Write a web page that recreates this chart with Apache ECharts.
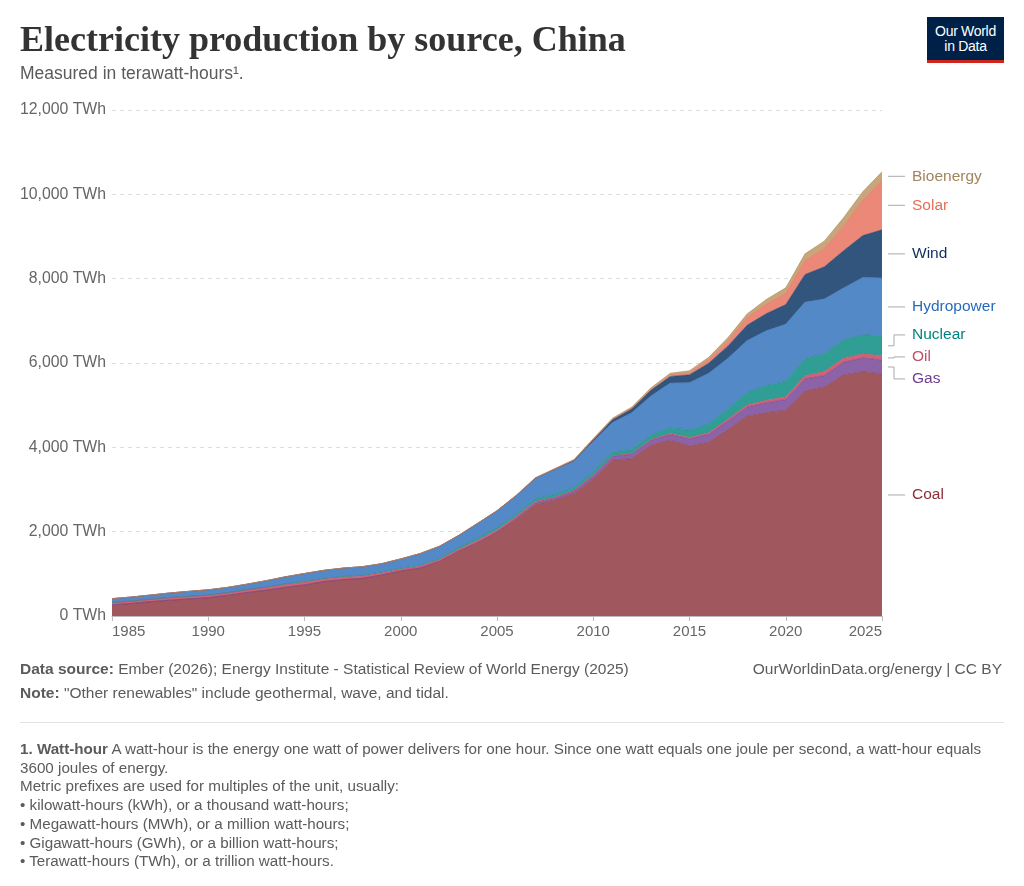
<!DOCTYPE html>
<html>
<head>
<meta charset="utf-8">
<title>Electricity production by source, China</title>
<script src="https://cdn.jsdelivr.net/npm/echarts@6.0.0/dist/echarts.min.js"></script>
<style>
    html, body { margin: 0; padding: 0; background: #fff; }
    #wrap { position: relative; width: 1024px; height: 886px; font-family: "Liberation Sans", Arial, sans-serif; color: #5b5b5b; }
    #chart { position: absolute; left: 0; top: 0; width: 1024px; height: 886px; }
    .t { position: absolute; white-space: nowrap; }
    h1 { position: absolute; left: 20px; top: 18px; margin: 0; font: bold 36px "Liberation Serif", "DejaVu Serif", serif; color: #333; }
    .logo { position: absolute; left: 927px; top: 17px; width: 77px; height: 46px; background: #002147; border-bottom: 3px solid #ce261e; box-sizing: border-box; color: #fff; font: 14px/15px "Liberation Sans Narrow", "Liberation Sans", sans-serif; text-align: center; padding-top: 7px; letter-spacing: -0.3px; }
    b { color: #5b5b5b; }
</style>
</head>
<body>
<div id="wrap">
    <div id="chart"></div>
    <h1>Electricity production by source, China</h1>
    <div class="t" style="left:20px;top:63px;font-size:17.5px;">Measured in terawatt-hours¹.</div>
    <div class="logo">Our World<br>in Data</div>
    <div class="t" style="left:20px;top:660px;font-size:15.5px;"><b>Data source:</b> Ember (2026); Energy Institute - Statistical Review of World Energy (2025)</div>
    <div class="t" style="right:22px;top:660px;font-size:15.5px;">OurWorldinData.org/energy | CC BY</div>
    <div class="t" style="left:20px;top:684px;font-size:15.5px;"><b>Note:</b> "Other renewables" include geothermal, wave, and tidal.</div>
    <div style="position:absolute;left:20px;top:722px;width:984px;height:1px;background:#e3e3e3;"></div>
    <div class="t" style="left:20px;top:740px;font-size:15.2px;line-height:18.7px;">
        <b>1. Watt-hour</b> A watt-hour is the energy one watt of power delivers for one hour. Since one watt equals one joule per second, a watt-hour equals<br>
        3600 joules of energy.<br>
        Metric prefixes are used for multiples of the unit, usually:<br>
        • kilowatt-hours (kWh), or a thousand watt-hours;<br>
        • Megawatt-hours (MWh), or a million watt-hours;<br>
        • Gigawatt-hours (GWh), or a billion watt-hours;<br>
        • Terawatt-hours (TWh), or a trillion watt-hours.
    </div>
</div>
<script>
// years 1985 - 2025, values in TWh
var years = [];
for (var y = 1985; y <= 2025; y++) years.push(String(y));

var coal = [263, 297, 338, 375, 403, 432, 489, 554, 609, 677,
    736, 812, 860, 887, 969, 1062, 1132, 1287, 1531, 1736,
    1985, 2294, 2643, 2748, 2906, 3250, 3700, 3730, 4050, 4170,
    4030, 4120, 4420, 4740, 4820, 4880, 5335, 5430, 5715, 5795, 5740];
var gas = [1, 1, 1, 1.5, 2, 2.5, 2.5, 2.5, 2.5, 2.5,
    2.5, 3, 3, 3.5, 4, 5.8, 6.3, 7.6, 8.9, 10.5,
    12.4, 28.8, 45.2, 52, 59.2, 77.6, 88.7, 104.7, 115.1, 133.3,
    166.9, 188.3, 203.2, 215.5, 236.6, 252.5, 287.1, 271.5, 300, 325, 330];
var oil = [55, 57, 58, 60, 62, 60, 62, 66, 70, 68,
    66, 65, 62, 60, 55, 46, 45, 42, 40, 48,
    45, 40, 30, 15, 15, 14, 14, 15, 20, 25,
    35, 40, 45, 50, 60, 65, 75, 95, 100, 100, 100];
var nuclear = [0, 0, 0, 0, 0, 0, 0, 0.5, 2.5, 14,
    12.8, 14.3, 14.4, 14.1, 14.9, 16.7, 17.5, 25.1, 43.3, 50.5,
    53.1, 54.8, 62.1, 68.4, 70.1, 73.9, 86.4, 97.4, 111.6, 132.5,
    170.8, 213.2, 248.1, 295, 348.7, 366.4, 407.5, 417.8, 434.7, 450.8, 475];
var hydro = [92.4, 94.5, 100, 109.2, 118.3, 126.7, 124.7, 130.7, 151.8, 167.4,
    190.6, 188, 196, 204.3, 196.6, 222.4, 277.4, 288, 283.7, 353.5,
    397, 435.8, 485.3, 585.2, 615.6, 722.2, 698.9, 872.1, 920.3, 1064.3,
    1130.3, 1193.4, 1194.7, 1232.1, 1302, 1355, 1339, 1303, 1226, 1354, 1370];
var wind = [0, 0, 0, 0, 0, 0, 0, 0, 0, 0,
    0.1, 0.1, 0.2, 0.3, 0.4, 0.6, 0.7, 0.9, 1, 1.3,
    2, 3.8, 5.6, 13.1, 27.6, 44.6, 70.3, 95.9, 141.2, 156.1,
    185.6, 240.9, 295, 365.8, 405.3, 466.5, 655.6, 762.7, 885.9, 997, 1145];
var solar = [0, 0, 0, 0, 0, 0, 0, 0, 0, 0,
    0, 0, 0, 0, 0, 0, 0, 0, 0, 0,
    0, 0, 0, 0.1, 0.3, 0.7, 2.6, 6.4, 15.5, 29.2,
    45.2, 75.3, 117.8, 176.9, 224, 261.1, 327, 427.3, 584.2, 834, 1160];
var bio = [0, 0, 0, 0, 0, 0, 0, 0, 0, 0,
    0, 0, 0, 0, 0, 2.4, 2.4, 2.5, 2.5, 2.5,
    5.3, 8.6, 11, 14.6, 20, 24.8, 31.5, 33.7, 38.3, 46.1,
    52.7, 64.7, 79.5, 90.6, 112.6, 135.5, 163.7, 182.4, 197.3, 206, 215];

var yTicks = [0, 2000, 4000, 6000, 8000, 10000, 12000];

// bottom to top
var sources = [
    { name: 'Coal', data: coal, fill: '#a0575e', line: '#8a3f47', text: '#883039' },
    { name: 'Gas', data: gas, fill: '#8c63a6', line: '#6d3e91', text: '#6d3e91' },
    { name: 'Oil', data: oil, fill: '#cf6278', line: '#c15065', text: '#c15065' },
    { name: 'Nuclear', data: nuclear, fill: '#319e95', line: '#1a8a80', text: '#00847e' },
    { name: 'Hydropower', data: hydro, fill: '#5489c8', line: '#3f76b8', text: '#286bbb' },
    { name: 'Wind', data: wind, fill: '#32557e', line: '#24456c', text: '#0f2e5e' },
    { name: 'Solar', data: solar, fill: '#ec8878', line: '#e06f5d', text: '#e56e5a' },
    { name: 'Bioenergy', data: bio, fill: '#c9a57a', line: '#b08a5c', text: '#a2845e' }
];

function fmt(v) {
    return v.toString().replace(/\B(?=(\d{3})+(?!\d))/g, ',') + ' TWh';
}

var series = sources.map(function (s) {
    return {
        name: s.name,
        type: 'line',
        stack: 'total',
        symbol: 'none',
        silent: true,
        lineStyle: { width: 0.6, color: s.line },
        areaStyle: { color: s.fill, opacity: 1 },
        data: s.data
    };
});

var chart = echarts.init(document.getElementById('chart'), null, { renderer: 'canvas' });
chart.setOption({
    animation: false,
    grid: { left: 112, right: 142, top: 110, bottom: 270 },
    xAxis: {
        type: 'category',
        data: years,
        boundaryGap: false,
        axisLine: { show: true, lineStyle: { color: '#bbb' } },
        axisTick: { show: true, interval: 4, length: 5, lineStyle: { color: '#bbb' } },
        splitLine: { show: false },
        axisLabel: {
            interval: 4,
            color: '#666', fontSize: 15, fontFamily: 'Liberation Sans', margin: 8,
            alignMinLabel: 'left', alignMaxLabel: 'right'
        }
    },
    yAxis: {
        type: 'value',
        min: yTicks[0],
        max: yTicks[yTicks.length - 1],
        interval: 2000,
        axisLine: { show: false },
        axisTick: { show: false },
        splitLine: { lineStyle: { color: '#dddddd', type: [4, 4] } },
        axisLabel: { color: '#666', fontSize: 15.8, fontFamily: 'Liberation Sans', margin: 6, formatter: fmt }
    },
    series: series
});

// right hand labels with leader lines, pushed apart when they crowd
var last = years.length - 1;
var cum = 0;
var items = sources.map(function (s) {
    var v = s.data[last];
    var mid = cum + v / 2;
    cum += v;
    var p = chart.convertToPixel({ gridIndex: 0 }, [last, mid]);
    return { s: s, x: p[0], y0: p[1], y: p[1] };
});
items.sort(function (a, b) { return a.y0 - b.y0; });
var gap = 22;
for (var it = 0; it < 50; it++) {
    var moved = false;
    for (var k = 1; k < items.length; k++) {
        var d = items[k].y - items[k - 1].y;
        if (d < gap) {
            var push = (gap - d) / 2;
            items[k].y += push;
            items[k - 1].y -= push;
            moved = true;
        }
    }
    if (!moved) break;
}

var graphics = [];
items.forEach(function (o) {
    var x0 = o.x + 6, xm = o.x + 12, x1 = o.x + 23;
    var pts = Math.abs(o.y - o.y0) < 1 ? [[x0, o.y0], [x1, o.y0]] : [[x0, o.y0], [xm, o.y0], [xm, o.y], [x1, o.y]];
    graphics.push({
        type: 'polyline',
        shape: { points: pts },
        style: { stroke: '#aaa', lineWidth: 1, fill: null }
    });
    graphics.push({
        type: 'text',
        x: x1 + 7,
        y: o.y,
        style: { text: o.s.name, fill: o.s.text, font: '15.5px "Liberation Sans"', textVerticalAlign: 'middle' }
    });
});
chart.setOption({ graphic: graphics });
</script>
</body>
</html>
